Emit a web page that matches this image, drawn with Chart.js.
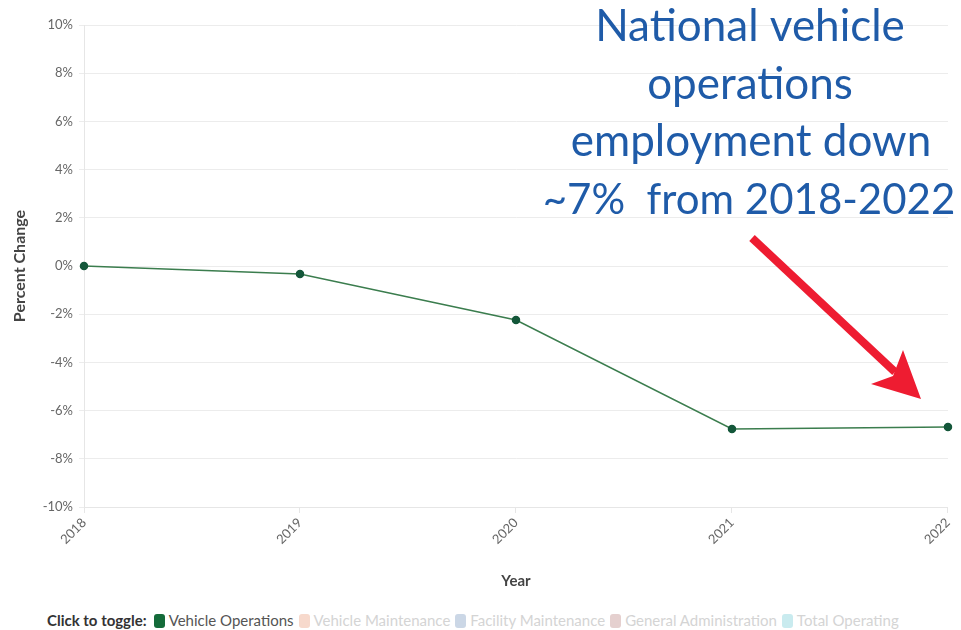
<!DOCTYPE html>
<html lang="en">
<head>
    <meta charset="UTF-8">
    <title>Vehicle Operations - Percent Change</title>
    <script src="https://cdn.jsdelivr.net/npm/chart.js"></script>
    <style>
        body { margin: 0; background: #fff; font-family: Lato, "Open Sans", sans-serif; }
        #wrap { position: relative; width: 961px; height: 630px; }
        #legend { position: absolute; left: 47px; top: 611px; font-size: 15px; white-space: nowrap; }
        #legend b { color: #333; margin-right: 7px; }
        #legend span.item { margin-right: 5px; }
        #legend i { display: inline-block; width: 11px; height: 14px; border-radius: 3px; vertical-align: -2px; margin-right: 4px; }
    </style>
</head>
<body>
    <div id="wrap">
        <canvas id="myChart" width="961" height="600"></canvas>
        <div id="legend"></div>
    </div>
    <script>
        // data
        const years = ['2018', '2019', '2020', '2021', '2022'];
        const vehicleOps = [0, -0.33, -2.24, -6.76, -6.68];
        const seriesNames = ['Vehicle Operations', 'Vehicle Maintenance', 'Facility Maintenance', 'General Administration', 'Total Operating'];
        const seriesColors = ['#146b3a', '#f7d9cc', '#cbd7e6', '#e5d0cf', '#c9ebef'];
        const seriesShown = [true, false, false, false, false];
        const noteLines = ['National vehicle', 'operations', 'employment down', '~7%  from 2018-2022'];

        // legend (html)
        let html = '<b>Click to toggle:</b>';
        seriesNames.forEach(function (n, i) {
            html += '<span class="item"><i style="background:' + seriesColors[i] + '"></i>' +
                '<span style="color:' + (seriesShown[i] ? '#555' : '#d4d4d4') + '">' + n + '</span></span>';
        });
        document.getElementById('legend').innerHTML = html;

        // annotation + arrow
        const notePlugin = {
            id: 'note',
            afterDraw(chart) {
                const c = chart.ctx;
                c.save();
                c.fillStyle = '#1f5ba8';
                c.textAlign = 'center';
                c.textBaseline = 'middle';
                const ys = [27, 85, 142, 200];
                const xs = [750, 750, 751, 749];
                const sizes = [44, 44, 44, 42];
                noteLines.forEach(function (t, i) {
                    c.font = sizes[i] + 'px Lato, "Open Sans", sans-serif';
                    c.fillText(t, xs[i], ys[i]);
                });
                // arrow
                c.strokeStyle = '#ee1c31';
                c.fillStyle = '#ee1c31';
                c.lineWidth = 8;
                c.beginPath();
                c.moveTo(752, 238);
                c.lineTo(895, 372);
                c.stroke();
                c.beginPath();
                c.moveTo(921, 399);
                c.lineTo(903, 350);
                c.lineTo(893, 376);
                c.lineTo(871, 384);
                c.closePath();
                c.fill();
                c.restore();
            }
        };

        const ctx = document.getElementById('myChart');
        const mychart = new Chart(ctx, {
            type: 'line',
            data: {
                labels: years,
                datasets: [{
                    label: seriesNames[0],
                    data: vehicleOps,
                    borderColor: '#3b7d4e',
                    borderWidth: 1.5,
                    pointBackgroundColor: '#14573a',
                    pointBorderColor: '#14573a',
                    pointRadius: 3.5,
                    tension: 0
                }]
            },
            options: {
                responsive: false,
                animation: false,
                layout: { padding: { top: 25, right: 13, left: 10, bottom: 0 } },
                plugins: { legend: { display: false }, tooltip: { enabled: false } },
                scales: {
                    x: {
                        offset: false,
                        grid: { display: true, drawOnChartArea: false, color: '#e6e6e6', tickLength: 6 },
                        border: { color: '#e6e6e6' },
                        ticks: { color: '#666', font: { family: 'Lato', size: 13 }, maxRotation: 45, minRotation: 45, padding: 2 },
                        title: { display: true, text: 'Year', color: '#444', font: { family: 'Lato', size: 15, weight: 'bold' }, padding: { top: 4, bottom: 10 } },
                        afterFit: function (s) { s.height = 93; }
                    },
                    y: {
                        min: -10,
                        max: 10,
                        grid: { color: '#ececec', tickLength: 5 },
                        border: { color: '#e6e6e6' },
                        ticks: { stepSize: 2, color: '#666', font: { family: 'Lato', size: 13 }, padding: 6,
                            callback: function (v) { return v + '%'; } },
                        title: { display: true, text: 'Percent Change', color: '#444', font: { family: 'Lato', size: 16, weight: 'bold' }, padding: 0 },
                        afterFit: function (s) { s.width = 74; }
                    }
                }
            },
            plugins: [notePlugin]
        });
    </script>
</body>
</html>
